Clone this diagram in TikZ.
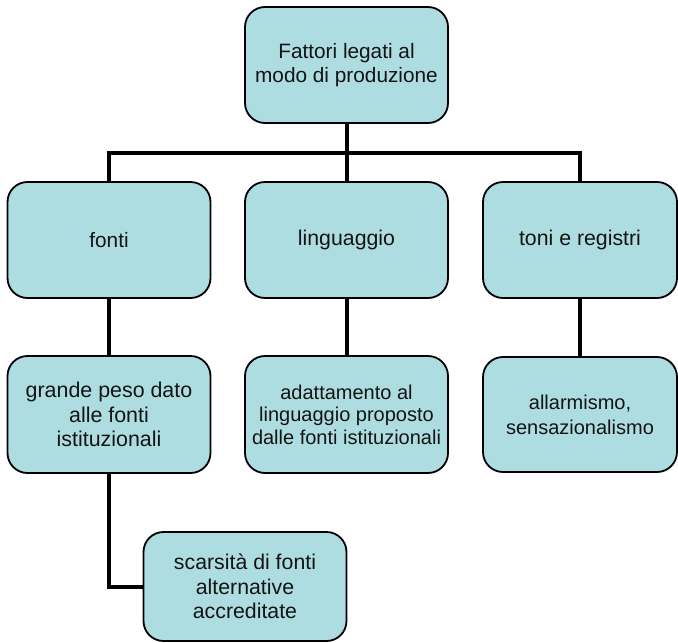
\documentclass[tikz,border=0pt]{standalone}
\usepackage{fontspec}
\setmainfont{Liberation Sans}
\definecolor{boxfill}{RGB}{173,221,224}
\definecolor{txt}{RGB}{20,20,20}
\begin{document}
\begin{tikzpicture}[x=1pt,y=-1pt,
  box/.style={draw=black, line width=1.8pt, fill=boxfill, rounded corners=20pt,
    minimum width=203pt, minimum height=116pt, align=center, inner sep=4pt,
    text=txt, font=\fontsize{21}{24.5}\selectfont},
  conn/.style={draw=black, line width=4pt}]
\useasboundingbox (0,0) rectangle (678,643);
\node[box, font=\fontsize{20.8}{24.5}\selectfont] (top) at (346.5,65) {Fattori legati al\\modo di produzione};
\node[box, font=\fontsize{20.8}{24.5}\selectfont] (fonti) at (109,240) {fonti};
\node[box, font=\fontsize{21.3}{24.5}\selectfont] (ling) at (346.5,240) {linguaggio};
\node[box, minimum width=194pt, font=\fontsize{21.3}{24.5}\selectfont] (toni) at (580,240) {toni e registri};
\node[box, minimum height=117pt, font=\fontsize{21.4}{24.5}\selectfont] (grande) at (109,414.5) {grande peso dato\\alle fonti\\istituzionali};
\node[box, minimum height=117pt, font=\fontsize{20}{22.5}\selectfont] (adatt) at (346.5,414.5) {adattamento al\\linguaggio proposto\\dalle fonti istituzionali};
\node[box, minimum width=194pt, minimum height=115pt, font=\fontsize{20}{25}\selectfont] (allarm) at (580,414.5) {allarmismo,\\sensazionalismo};
\node[box, minimum height=109pt, font=\fontsize{21.3}{24.5}\selectfont] (scars) at (245,586.5) {scarsit\`a di fonti\\alternative\\accreditate};
\coordinate (bus) at (346.5,153);
\draw[conn] (top.south) -- (bus);
\draw[conn] (fonti.north) |- (bus) -| (toni.north);
\draw[conn] (bus) -- (ling.north);
\draw[conn] (fonti.south) -- (grande.north);
\draw[conn] (ling.south) -- (adatt.north);
\draw[conn] (toni.south) -- (allarm.north);
\draw[conn] (grande.south) |- (scars.west);
\end{tikzpicture}
\end{document}
